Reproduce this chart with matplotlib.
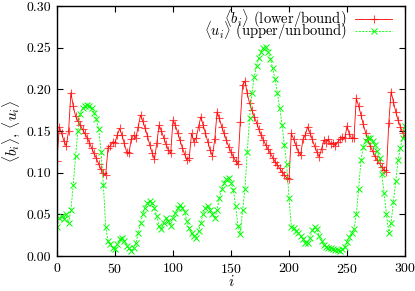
#!/usr/bin/env python3
# -*- coding: utf-8 -*-

import numpy as np
import matplotlib
matplotlib.use("Agg")
import matplotlib.pyplot as plt
from matplotlib.ticker import FormatStrFormatter

# mean occupation per site (every 2nd site)
b_vals = [
    0.114, 0.155, 0.147, 0.138, 0.132, 0.150, 0.196, 0.180, 0.168, 0.162,
    0.157, 0.152, 0.147, 0.142, 0.136, 0.129, 0.123, 0.117, 0.110, 0.104,
    0.099, 0.097, 0.130, 0.132, 0.137, 0.136, 0.145, 0.153, 0.145, 0.135,
    0.125, 0.123, 0.140, 0.145, 0.142, 0.155, 0.169, 0.162, 0.153, 0.144,
    0.133, 0.124, 0.116, 0.135, 0.157, 0.150, 0.142, 0.134, 0.127, 0.123,
    0.163, 0.157, 0.148, 0.139, 0.130, 0.122, 0.115, 0.118, 0.147, 0.137,
    0.142, 0.155, 0.167, 0.157, 0.147, 0.137, 0.127, 0.120, 0.140, 0.173,
    0.165, 0.155, 0.147, 0.139, 0.131, 0.125, 0.119, 0.114, 0.110, 0.161,
    0.205, 0.210, 0.195, 0.183, 0.175, 0.167, 0.160, 0.152, 0.145, 0.139,
    0.133, 0.128, 0.123, 0.118, 0.113, 0.109, 0.105, 0.101, 0.097, 0.094,
    0.092, 0.147, 0.140, 0.133, 0.125, 0.121, 0.140, 0.145, 0.155, 0.148,
    0.140, 0.132, 0.125, 0.119, 0.128, 0.139, 0.136, 0.140, 0.134, 0.136,
    0.132, 0.137, 0.140, 0.143, 0.141, 0.156, 0.146, 0.141, 0.142, 0.189,
    0.180, 0.169, 0.158, 0.148, 0.140, 0.132, 0.126, 0.120, 0.115, 0.111,
    0.107, 0.103, 0.101, 0.160, 0.197, 0.185, 0.173, 0.163, 0.155, 0.148,
    0.143,
]

u_vals = [
    0.035, 0.045, 0.048, 0.044, 0.050, 0.040, 0.055, 0.085, 0.120, 0.150,
    0.170, 0.177, 0.180, 0.181, 0.180, 0.178, 0.172, 0.164, 0.152, 0.125,
    0.085, 0.035, 0.018, 0.014, 0.010, 0.008, 0.014, 0.020, 0.022, 0.018,
    0.012, 0.009, 0.006, 0.010, 0.015, 0.027, 0.040, 0.050, 0.058, 0.064,
    0.066, 0.063, 0.057, 0.048, 0.036, 0.032, 0.040, 0.046, 0.042, 0.036,
    0.045, 0.052, 0.058, 0.061, 0.058, 0.053, 0.042, 0.033, 0.027, 0.024,
    0.022, 0.030, 0.040, 0.050, 0.058, 0.060, 0.055, 0.050, 0.045, 0.055,
    0.070, 0.080, 0.087, 0.092, 0.093, 0.088, 0.079, 0.060, 0.036, 0.026,
    0.055, 0.080, 0.125, 0.165, 0.195, 0.215, 0.228, 0.238, 0.245, 0.250,
    0.251, 0.245, 0.236, 0.225, 0.212, 0.195, 0.178, 0.157, 0.133, 0.110,
    0.070, 0.035, 0.033, 0.030, 0.028, 0.024, 0.020, 0.016, 0.015, 0.022,
    0.031, 0.035, 0.032, 0.024, 0.018, 0.013, 0.011, 0.010, 0.009, 0.008,
    0.007, 0.007, 0.006, 0.008, 0.011, 0.017, 0.023, 0.028, 0.032, 0.050,
    0.080, 0.115, 0.131, 0.138, 0.141, 0.142, 0.138, 0.133, 0.126, 0.117,
    0.098, 0.075, 0.050, 0.027, 0.040, 0.065, 0.090, 0.115, 0.130, 0.142,
    0.156,
]

site_step = 2
x_ticks = [0, 50, 100, 150, 200, 250, 300]
y_ticks = [0.00, 0.05, 0.10, 0.15, 0.20, 0.25, 0.30]

label_b = r"$\langle b_i\rangle$ (lower/bound)"
label_u = r"$\langle u_i\rangle$ (upper/unbound)"


def main():
    plt.rcParams["font.family"] = ["cmr10", "DejaVu Serif"]
    plt.rcParams["mathtext.fontset"] = "cm"
    plt.rcParams["axes.formatter.use_mathtext"] = True
    plt.rcParams["font.size"] = 10

    i_b = np.arange(len(b_vals)) * site_step
    i_u = np.arange(len(u_vals)) * site_step

    fig = plt.figure(figsize=(4.15, 2.91), dpi=100)
    ax = fig.add_axes([0.1373, 0.1203, 0.8387, 0.8591])

    red = "#ff0000"
    green = "#00ff00"
    ax.plot(i_b, b_vals, color=red, lw=0.6, marker="+", ms=6,
            mew=0.8, mec=(1.0, 0.0, 0.0, 0.7), label=label_b)
    ax.plot(i_u, u_vals, color=green, lw=0.6, ls=(0, (2.5, 1.5)),
            marker="x", ms=4.5, mew=0.7, mec=green, label=label_u)

    ax.set_xlim(0, 300)
    ax.set_ylim(0, 0.30)
    ax.set_xticks(x_ticks)
    ax.set_yticks(y_ticks)
    ax.yaxis.set_major_formatter(FormatStrFormatter("%.2f"))
    ax.tick_params(direction="in", length=4, width=0.8, top=True, right=True,
                   labelsize=10, pad=4)
    for s in ax.spines.values():
        s.set_linewidth(1.0)

    ax.set_xlabel(r"$i$", fontsize=11, labelpad=-1)
    ax.set_ylabel(r"$\langle b_i\rangle$, $\langle u_i\rangle$", fontsize=11,
                  labelpad=3)

    ax.legend(loc="upper right", bbox_to_anchor=(0.962, 0.995),
              markerfirst=False, frameon=False,
              fontsize=10.5, handlelength=2.5, handletextpad=0.6,
              labelspacing=-0.75, borderaxespad=0.0, borderpad=0.0)

    fig.savefig("out.png", dpi=100)
    plt.close(fig)


if __name__ == "__main__":
    main()
